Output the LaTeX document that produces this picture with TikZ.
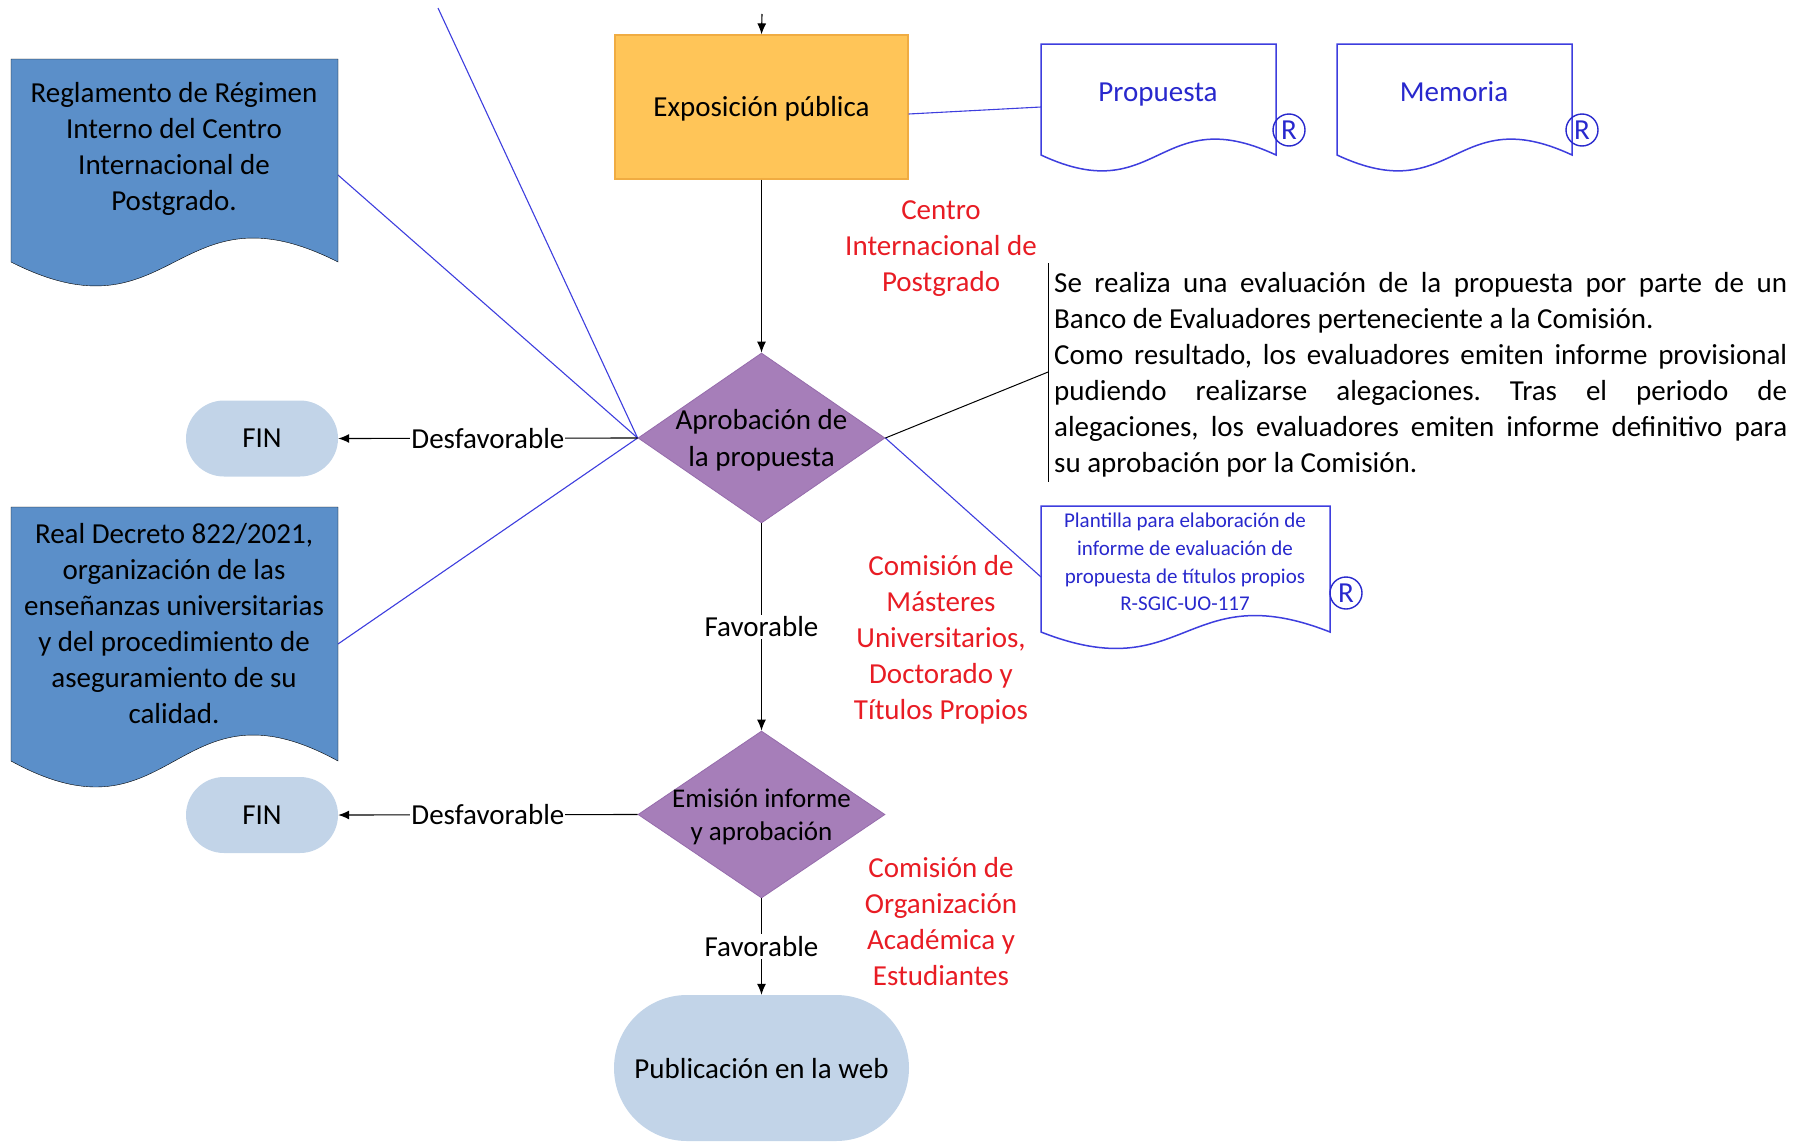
\documentclass[tikz,border=0pt]{standalone}
\usepackage{fontspec}
\setmainfont{Carlito}
\usetikzlibrary{arrows.meta,shapes.geometric,calc}
\definecolor{orangeF}{RGB}{255,197,88}
\definecolor{orangeB}{RGB}{240,172,66}
\definecolor{purpleF}{RGB}{166,126,185}
\definecolor{purpleB}{RGB}{150,108,172}
\definecolor{docblue}{RGB}{91,143,201}
\definecolor{termF}{RGB}{194,212,232}
\definecolor{redL}{RGB}{232,28,36}
\definecolor{lineblue}{RGB}{62,62,222}
\definecolor{textblue}{RGB}{40,40,205}
\newcommand\drawdoc[3]{\draw[#3] (#1.north west) -- (#1.north east) -- (#1.south east) .. controls ($(#1.south)+(0,-#2)$) and ($(#1.south)+(0,#2)$) .. (#1.south west) -- cycle;}
\frenchspacing
\begin{document}
\begin{tikzpicture}[x=1pt,y=-1pt,
  txt/.style={font=\fontsize{29}{36}\selectfont, align=center, inner sep=0pt},
  proc/.style={draw=orangeB, fill=orangeF, line width=1.2pt, minimum width=293pt, minimum height=144pt, inner sep=0pt},
  dec/.style={diamond, draw=purpleB, fill=purpleF, line width=0.8pt, minimum width=247pt, minimum height=170pt, inner sep=0pt},
  term/.style={fill=termF, rounded corners=38pt, minimum width=152pt, minimum height=76pt, inner sep=0pt},
  region/.style={inner sep=0pt, outer sep=0pt},
  bdoc/.style={draw=lineblue, line width=1.5pt, fill=white},
  fdoc/.style={fill=docblue},
  redlbl/.style={txt, text=redL},
  flow/.style={-{Latex[length=11pt,width=9pt]}, line width=1.1pt, black},
  assoc/.style={draw=lineblue, line width=1.1pt},
  note/.style={draw=black, line width=1pt},
  lbl/.style={txt, fill=white, inner xsep=1pt, inner ysep=2pt},
  doclbl/.style={txt, text=textblue, text height=20pt, text depth=7pt},
  rmark/.style={circle, draw=textblue, line width=1.4pt, minimum size=32pt, inner sep=0pt, text=textblue, font=\fontsize{29}{29}\selectfont}
]
\useasboundingbox (0,0) rectangle (1810,1143);

% documents (regions)
\node[region, minimum width=327pt, minimum height=203pt] (regl) at (174.5,160.5) {};
\node[region, minimum width=327pt, minimum height=254pt] (rd) at (174.5,634) {};
\node[region, minimum width=235pt, minimum height=111pt] (prop) at (1158.5,99.5) {};
\node[region, minimum width=235pt, minimum height=111pt] (mem) at (1454.5,99.5) {};
\node[region, minimum width=289pt, minimum height=126pt] (plant) at (1185.5,569) {};

\coordinate (topfree) at (438,8);
\coordinate (topin) at (762,14);
\coordinate (brktop) at (1048,263);
\coordinate (brkbot) at (1048,482);

\node[dec] (d1) at (761.5,438) {};
\node[dec, minimum height=167pt] (d2) at (761.5,814.5) {};
\node[proc] (expo) at (761.5,107) {};
\node[term] (fin1) at (262,438.5) {};
\node[term] (fin2) at (262,815) {};
\node[term, rounded corners=73pt, minimum width=295pt, minimum height=146pt] (pub) at (761.5,1068) {};

\draw[assoc] (topfree) -- (d1.west);
\draw[assoc] ($(regl.east)+(0,14.5)$) -- (d1.west);
\draw[assoc] ($(rd.east)+(0,10)$) -- (d1.west);
\draw[assoc] ($(expo.east)+(0,7)$) -- ($(prop.west)+(0,7.5)$);
\draw[assoc] (d1.east) -- ($(plant.west)+(0,8)$);
\draw[note] (d1.east) -- ($(brktop)!0.498!(brkbot)$);
\draw[note] (brktop) -- (brkbot);

\drawdoc{regl}{83}{fdoc}
\drawdoc{rd}{90}{fdoc}
\drawdoc{prop}{55}{bdoc}
\drawdoc{mem}{55}{bdoc}
\drawdoc{plant}{57}{bdoc}

% texts
\node[txt] (regl-t) at (174,149) {Reglamento de Régimen\\Interno del Centro\\Internacional de\\Postgrado.};
\node[txt] (rd-t) at (174,624) {Real Decreto 822/2021,\\organización de las\\enseñanzas universitarias\\y del procedimiento de\\aseguramiento de su\\calidad.};
\node[doclbl] (prop-t) at (1158,94.5) {Propuesta};
\node[doclbl] (mem-t) at (1454,94.5) {Memoria};
\node[txt, text=textblue, font=\fontsize{21}{27.7}\selectfont] (plant-t) at (1185,562) {Plantilla para elaboración de\\informe de evaluación de\\propuesta de títulos propios\\R-SGIC-UO-117};
\node[rmark] (r1) at (1289,130) {R};
\node[rmark] (r2) at (1582,130) {R};
\node[rmark] (r3) at (1346,593) {R};

\node[txt] at ($(expo)+(0,1.5)$) (expo-t) {Exposición pública};
\node[txt, font=\fontsize{29}{37}\selectfont] (d1-t) at ($(d1)+(0,2.5)$) {Aprobación de\\la propuesta};
\node[txt, font=\fontsize{27}{33}\selectfont] (d2-t) at ($(d2)+(0,2)$) {Emisión informe\\y aprobación};
\node[txt] (fin1-t) at (fin1) {FIN};
\node[txt] (fin2-t) at (fin2) {FIN};
\node[txt] (pub-t) at ($(pub)+(0,1)$) {Publicación en la web};

% flow
\draw[flow] (topin) -- (expo.north);
\draw[flow] (expo.south) -- (d1.north);
\draw[flow] (d1.west) -- node[lbl] {Desfavorable} (fin1.east);
\draw[flow] (d1.south) -- node[lbl] {Favorable} (d2.north);
\draw[flow] (d2.west) -- node[lbl] {Desfavorable} (fin2.east);
\draw[flow] (d2.south) -- node[lbl] {Favorable} (pub.north);

% red labels
\node[redlbl] (lblA) at (941,248.5) {Centro\\Internacional de\\Postgrado};
\node[redlbl] (lblB) at (941,640) {Comisión de\\Másteres\\Universitarios,\\Doctorado y\\Títulos Propios};
\node[redlbl] (lblC) at (941,922) {Comisión de\\Organización\\Académica y\\Estudiantes};

% annotation
\node[txt, align=left, anchor=west] (annot) at (1054,374.5) {%
\makebox[733pt][s]{Se realiza una evaluación de la propuesta por parte de un}\\
Banco de Evaluadores perteneciente a la Comisión.\\
\makebox[733pt][s]{Como resultado, los evaluadores emiten informe provisional}\\
\makebox[733pt][s]{pudiendo realizarse alegaciones. Tras el periodo de}\\
\makebox[733pt][s]{alegaciones, los evaluadores emiten informe definitivo para}\\
su aprobación por la Comisión.};
\end{tikzpicture}
\end{document}
